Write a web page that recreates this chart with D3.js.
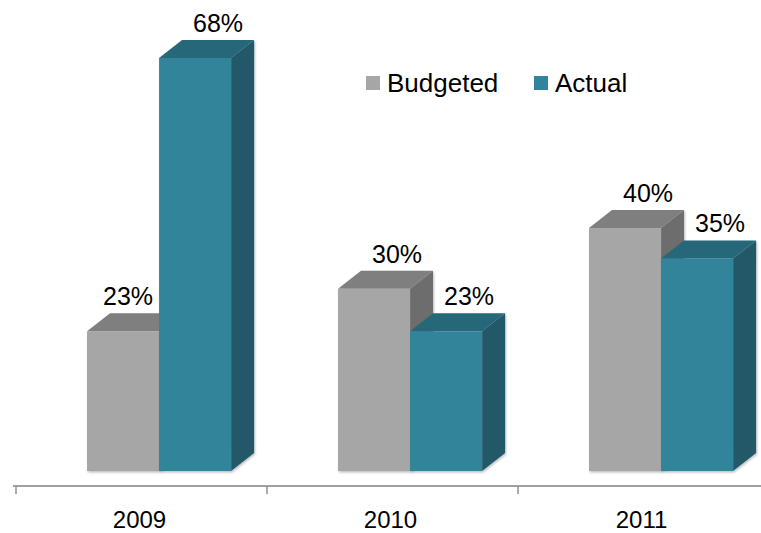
<!DOCTYPE html>
<html>
<head>
<meta charset="utf-8">
<script src="https://cdn.jsdelivr.net/npm/d3@7"></script>
<style>
  html, body { margin: 0; padding: 0; background: #fff; }
  svg { display: block; font-family: "Liberation Sans", Arial, sans-serif; }
</style>
</head>
<body>
<svg id="chart" width="761" height="533"></svg>
<script>
const categories = ["2009", "2010", "2011"];
const seriesNames = ["Budgeted", "Actual"];
const budgeted = [23, 30, 40];
const actual = [68, 23, 35];
const valueLabels = [["23%", "30%", "40%"], ["68%", "23%", "35%"]];

const W = 761, H = 533;
const svg = d3.select("#chart");

const colors = {
  Budgeted: { front: "#a6a6a6", top: "#7f7f7f", side: "#6d6d6d" },
  Actual:   { front: "#31849b", top: "#25677a", side: "#215868" }
};

const x = d3.scaleBand().domain(categories).range([16, 769]).paddingInner(0).paddingOuter(0);
const y = d3.scaleLinear().domain([0, 68]).range([471, 58]);
const bw = x.bandwidth();
const barW = bw * 0.287;
const barOffset = bw * 0.283;
const dx = 23, dy = 18;

const defs = svg.append("defs");
const f = defs.append("filter").attr("id", "sh").attr("x", "-10%").attr("y", "-10%").attr("width", "130%").attr("height", "130%");
f.append("feDropShadow").attr("dx", 1).attr("dy", 1.5).attr("stdDeviation", 1.2).attr("flood-color", "#000").attr("flood-opacity", 0.25);

const series = [
  { name: "Budgeted", values: budgeted, labels: valueLabels[0] },
  { name: "Actual", values: actual, labels: valueLabels[1] }
];

categories.forEach((cat, ci) => {
  series.forEach((s, si) => {
    const x0 = x(cat) + barOffset + si * barW;
    const x1 = x0 + barW;
    const yt = y(s.values[ci]);
    const yb = y(0);
    const c = colors[s.name];
    const g = svg.append("g").attr("filter", "url(#sh)");
    g.append("path")
      .attr("d", `M${x1},${yt} L${x1 + dx},${yt - dy} L${x1 + dx},${yb - dy} L${x1},${yb} Z`)
      .attr("fill", c.side);
    g.append("path")
      .attr("d", `M${x0},${yt} L${x0 + dx},${yt - dy} L${x1 + dx},${yt - dy} L${x1},${yt} Z`)
      .attr("fill", c.top);
    g.append("rect")
      .attr("x", x0).attr("y", yt).attr("width", barW).attr("height", yb - yt)
      .attr("fill", c.front);
  });
});

// value labels
categories.forEach((cat, ci) => {
  series.forEach((s, si) => {
    const x0 = x(cat) + barOffset + si * barW;
    let cx = x0 + barW / 2 + dx;
    const next = series[si + 1];
    const t = svg.append("text")
      .attr("y", y(s.values[ci]) - 26)
      .attr("text-anchor", "middle")
      .attr("font-size", 25)
      .attr("fill", "#000")
      .text(s.labels[ci]);
    const lw = t.node().getComputedTextLength();
    if (next && next.values[ci] > s.values[ci]) {
      const nextX0 = x0 + barW;
      cx = Math.min(cx, nextX0 - lw / 2 - 6);
    }
    t.attr("x", cx);
  });
});

// axis
const axisY = 486;
svg.append("line")
  .attr("x1", 13).attr("x2", W).attr("y1", axisY).attr("y2", axisY)
  .attr("stroke", "#a0a0a0").attr("stroke-width", 2);
categories.forEach(cat => {
  svg.append("line")
    .attr("x1", x(cat)).attr("x2", x(cat)).attr("y1", axisY).attr("y2", axisY + 8)
    .attr("stroke", "#909090").attr("stroke-width", 1.5);
  svg.append("text")
    .attr("x", x(cat) + bw / 2 - 2)
    .attr("y", 528)
    .attr("text-anchor", "middle")
    .attr("font-size", 24)
    .attr("fill", "#000")
    .text(cat);
});

// legend
const legendX = [366, 534];
seriesNames.forEach((n, i) => {
  svg.append("rect")
    .attr("x", legendX[i]).attr("y", 76).attr("width", 14).attr("height", 14)
    .attr("fill", colors[n].front);
  svg.append("text")
    .attr("x", legendX[i] + 21).attr("y", 92)
    .attr("font-size", 26)
    .attr("fill", "#000")
    .text(n);
});
</script>
</body>
</html>
